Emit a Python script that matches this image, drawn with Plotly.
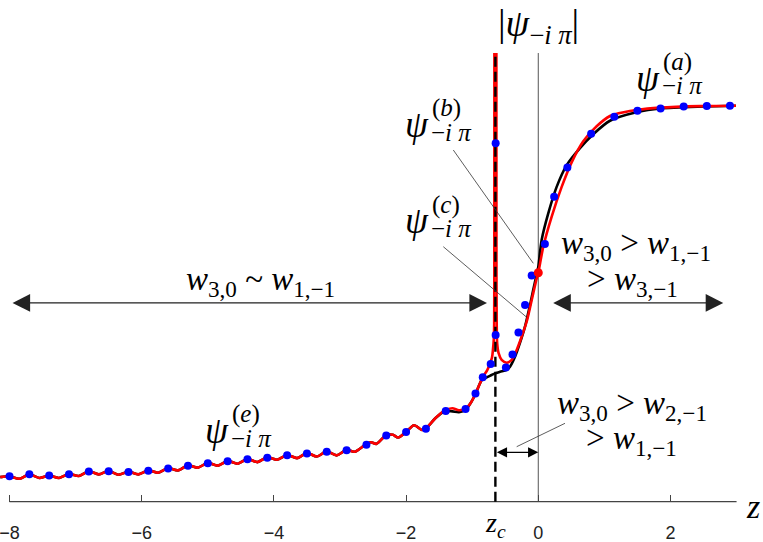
import plotly.graph_objects as go

# ---------------- data ----------------
# shared oscillating tail (red and black coincide here)
wave_z = [-8.14, -8.0, -7.85, -7.7, -7.55, -7.4, -7.25, -7.1, -6.95, -6.8, -6.65, -6.5,
          -6.35, -6.2, -6.05, -5.9, -5.75, -5.6, -5.45, -5.3, -5.15, -5.0, -4.85, -4.7,
          -4.55, -4.4, -4.25, -4.1, -3.95, -3.8, -3.65, -3.5, -3.35, -3.2, -3.05, -2.9,
          -2.78, -2.6, -2.53, -2.45, -2.3, -2.2, -2.12, -2.0, -1.88, -1.76, -1.7, -1.55]
wave_y = [0.062, 0.064, 0.058, 0.069, 0.060, 0.066, 0.060, 0.070, 0.065, 0.077, 0.069, 0.078,
          0.068, 0.076, 0.069, 0.079, 0.073, 0.085, 0.079, 0.092, 0.086, 0.098, 0.091, 0.103,
          0.096, 0.108, 0.100, 0.112, 0.106, 0.118, 0.110, 0.123, 0.114, 0.127, 0.117, 0.131,
          0.126, 0.146, 0.150, 0.146, 0.168, 0.169, 0.162, 0.176, 0.193, 0.181, 0.185, 0.212]

# red curve, left of z_c (diverges at z_c)
red_left_z = [-1.42, -1.3, -1.2, -1.1, -1.02, -0.95, -0.84, -0.77, -0.73, -0.70, -0.685,
              -0.673, -0.667, -0.665, -0.664]
red_left_y = [0.230, 0.236, 0.231, 0.235, 0.250, 0.273, 0.314, 0.333, 0.349, 0.364, 0.385,
              0.410, 0.45, 0.60, 1.133]
# red curve, right of z_c
red_right_z = [-0.634, -0.633, -0.629, -0.622, -0.600, -0.554, -0.478, -0.402, -0.327, -0.251,
               -0.175, -0.100, -0.024, 0.0, 0.076, 0.203, 0.354, 0.505, 0.681, 0.883, 1.085,
               1.15, 1.49, 1.84, 2.45, 2.99]
red_right_y = [1.133, 0.60, 0.45, 0.400, 0.375, 0.358, 0.351, 0.358, 0.383, 0.417,
               0.455, 0.509, 0.564, 0.578, 0.644, 0.720, 0.795, 0.857, 0.910, 0.948, 0.974,
               0.978, 0.989, 0.995, 0.999, 1.000]

# black curve beyond the shared tail
black_z = [-1.42, -1.3, -1.2, -1.1, -1.02, -0.95, -0.856, -0.806, -0.705, -0.655, -0.579,
           -0.478, -0.428, -0.352, -0.277, -0.201, -0.126, -0.076, -0.024, 0.0, 0.051, 0.151,
           0.278, 0.430, 0.631, 0.832, 1.085, 1.5, 1.85, 2.5, 2.99]
black_y = [0.228, 0.228, 0.226, 0.232, 0.250, 0.272, 0.307, 0.312, 0.320, 0.324, 0.328,
           0.333, 0.341, 0.366, 0.401, 0.442, 0.496, 0.535, 0.575, 0.593, 0.661, 0.728,
           0.795, 0.850, 0.893, 0.928, 0.962, 0.984, 0.993, 0.998, 1.000]

# blue sample points
dot_z = [-8.0, -7.7, -7.4, -7.1, -6.8, -6.5, -6.2, -5.9, -5.6, -5.3, -5.0, -4.7, -4.4, -4.1,
         -3.8, -3.5, -3.2, -2.9, -2.6, -2.3, -2.0, -1.7, -1.4, -1.1, -0.95, -0.84, -0.72,
         -0.645, -0.645, -0.49, -0.39, -0.30, -0.20, -0.10, 0.10, 0.24, 0.44, 0.80, 1.15,
         1.50, 1.85, 2.20, 2.55, 2.90]
dot_y = [0.064, 0.069, 0.066, 0.069, 0.076, 0.077, 0.075, 0.078, 0.084, 0.091, 0.097, 0.102,
         0.107, 0.111, 0.117, 0.122, 0.126, 0.130, 0.144, 0.167, 0.176, 0.184, 0.229, 0.234,
         0.273, 0.314, 0.348, 0.421, 0.905, 0.339, 0.372, 0.427, 0.497, 0.571, 0.651, 0.770,
         0.844, 0.929, 0.972, 0.987, 0.993, 0.998, 0.999, 1.000]

cross_z = [0.0]
cross_y = [0.578]

z_c = -0.649
top_y = 1.133

tick_vals = [-8, -6, -4, -2, 0, 2]
tick_text = ["\u22128", "\u22126", "\u22124", "\u22122", "0", "2"]

# ---------------- figure ----------------
W, H = 763, 542
XR = [-8.144, 3.400]
YR = [-0.1018, 1.2669]

fig = go.Figure()

fig.add_trace(go.Scatter(x=wave_z + black_z, y=wave_y + black_y, mode="lines",
                         line=dict(color="black", width=2.6, shape="spline", smoothing=0.8),
                         hoverinfo="skip"))
fig.add_trace(go.Scatter(x=wave_z + red_left_z + [None] + red_right_z,
                         y=wave_y + red_left_y + [None] + red_right_y, mode="lines",
                         connectgaps=False,
                         line=dict(color="#ff0000", width=2.6, shape="spline", smoothing=0.8),
                         hoverinfo="skip"))
fig.add_trace(go.Scatter(x=[z_c, z_c], y=[0, top_y], mode="lines",
                         line=dict(color="black", width=2.4, dash="10px,5px"),
                         hoverinfo="skip"))
fig.add_trace(go.Scatter(x=dot_z, y=dot_y, mode="markers",
                         marker=dict(color="#0000ff", size=8), hoverinfo="skip"))
fig.add_trace(go.Scatter(x=cross_z, y=cross_y, mode="markers",
                         marker=dict(color="#ff0000", size=9), hoverinfo="skip"))

# x = 0 vertical line and axis line
fig.add_shape(type="line", x0=0, x1=0, y0=0, y1=top_y, xref="x", yref="y",
              line=dict(color="#555555", width=1), layer="below")
fig.add_shape(type="line", x0=-8, x1=3, y0=0, y1=0, xref="x", yref="y",
              line=dict(color="#444444", width=1.2), layer="below")

SERIF = "Liberation Serif"


def px2paper(px, py):
    return px / W, 1 - py / H


def text(px, py, s, size, xanchor="center"):
    x, y = px2paper(px, py)
    fig.add_annotation(x=x, y=y, xref="paper", yref="paper", text=s, showarrow=False,
                       xanchor=xanchor, yanchor="middle",
                       font=dict(family=SERIF, size=size, color="black"))


def psi_label(px, py, sup):
    text(px, py, "<i>\u03c8</i>", 37)
    text(px + 13, py - 16, "(<i>" + sup + "</i>)", 25, xanchor="left")
    text(px + 12, py + 8, "\u2212<i>i</i> <i>\u03c0</i>", 25, xanchor="left")


# title-like label
text(538, 26, "|<i>\u03c8</i><sub>\u2212<i>i</i> <i>\u03c0</i></sub>|", 38)

psi_label(648, 78, "a")
psi_label(417, 124, "b")
psi_label(417, 221, "c")
psi_label(217, 430, "e")

W_SUB = lambda a: "<i>w</i><sub>" + a + "</sub>"
text(260, 282, W_SUB("3,0") + " ~ " + W_SUB("1,\u22121"), 33)
text(636, 245, W_SUB("3,0") + " &gt; " + W_SUB("1,\u22121"), 33)
text(632, 281, "&gt; " + W_SUB("3,\u22121"), 33)
text(632, 405, W_SUB("3,0") + " &gt; " + W_SUB("2,\u22121"), 33)
text(631, 440, "&gt; " + W_SUB("1,\u22121"), 33)

text(753, 506, "<i>z</i>", 34)
text(495, 524, "<i>z</i><sub><i>c</i></sub>", 28)

# leader lines
for (a, b, c, d) in [(453.3, 150, 533.3, 263.3), (443.3, 246.7, 526, 316.7),
                     (565, 423.3, 516.7, 446.7)]:
    x0, y0 = px2paper(a, b)
    x1, y1 = px2paper(c, d)
    fig.add_shape(type="line", x0=x0, y0=y0, x1=x1, y1=y1, xref="paper", yref="paper",
                  line=dict(color="#333333", width=0.8))

# double arrows
arrow_y = 0.502
for (tip, tail) in [(-0.776, -7.977), (2.799, 0.203)]:
    fig.add_annotation(x=tip, y=arrow_y, ax=tail, ay=arrow_y, xref="x", yref="y",
                       axref="x", ayref="y", text="", showarrow=True, arrowhead=2,
                       startarrowhead=2, arrowside="end+start", arrowsize=3.2,
                       startarrowsize=3.2, arrowwidth=1.1, arrowcolor="#222222",
                       standoff=0, startstandoff=0)
fig.add_annotation(x=0.0, y=0.1247, ax=z_c, ay=0.1247, xref="x", yref="y",
                   axref="x", ayref="y", text="", showarrow=True, arrowhead=2,
                   startarrowhead=2, arrowside="end+start", arrowsize=1.7,
                   startarrowsize=1.7, arrowwidth=1.2, arrowcolor="black",
                   standoff=0, startstandoff=0)

fig.update_layout(
    width=W, height=H, margin=dict(l=0, r=0, t=0, b=0),
    paper_bgcolor="white", plot_bgcolor="white", showlegend=False,
    xaxis=dict(range=XR, showgrid=False, zeroline=False, showline=False,
               tickvals=tick_vals, ticktext=tick_text, ticks="inside", ticklen=7,
               tickwidth=1, tickcolor="#444444", ticklabeloverflow="allow",
               tickfont=dict(family="Liberation Sans", size=18, color="#222222"),
               anchor="free", position=(0 - YR[0]) / (YR[1] - YR[0]),
               ticklabelstandoff=18, fixedrange=True),
    yaxis=dict(range=YR, visible=False, fixedrange=True),
)

fig.write_html("out.html", config={"displayModeBar": False},
               post_script="document.body.style.margin='0px';"
                           "document.body.style.overflow='hidden';")
